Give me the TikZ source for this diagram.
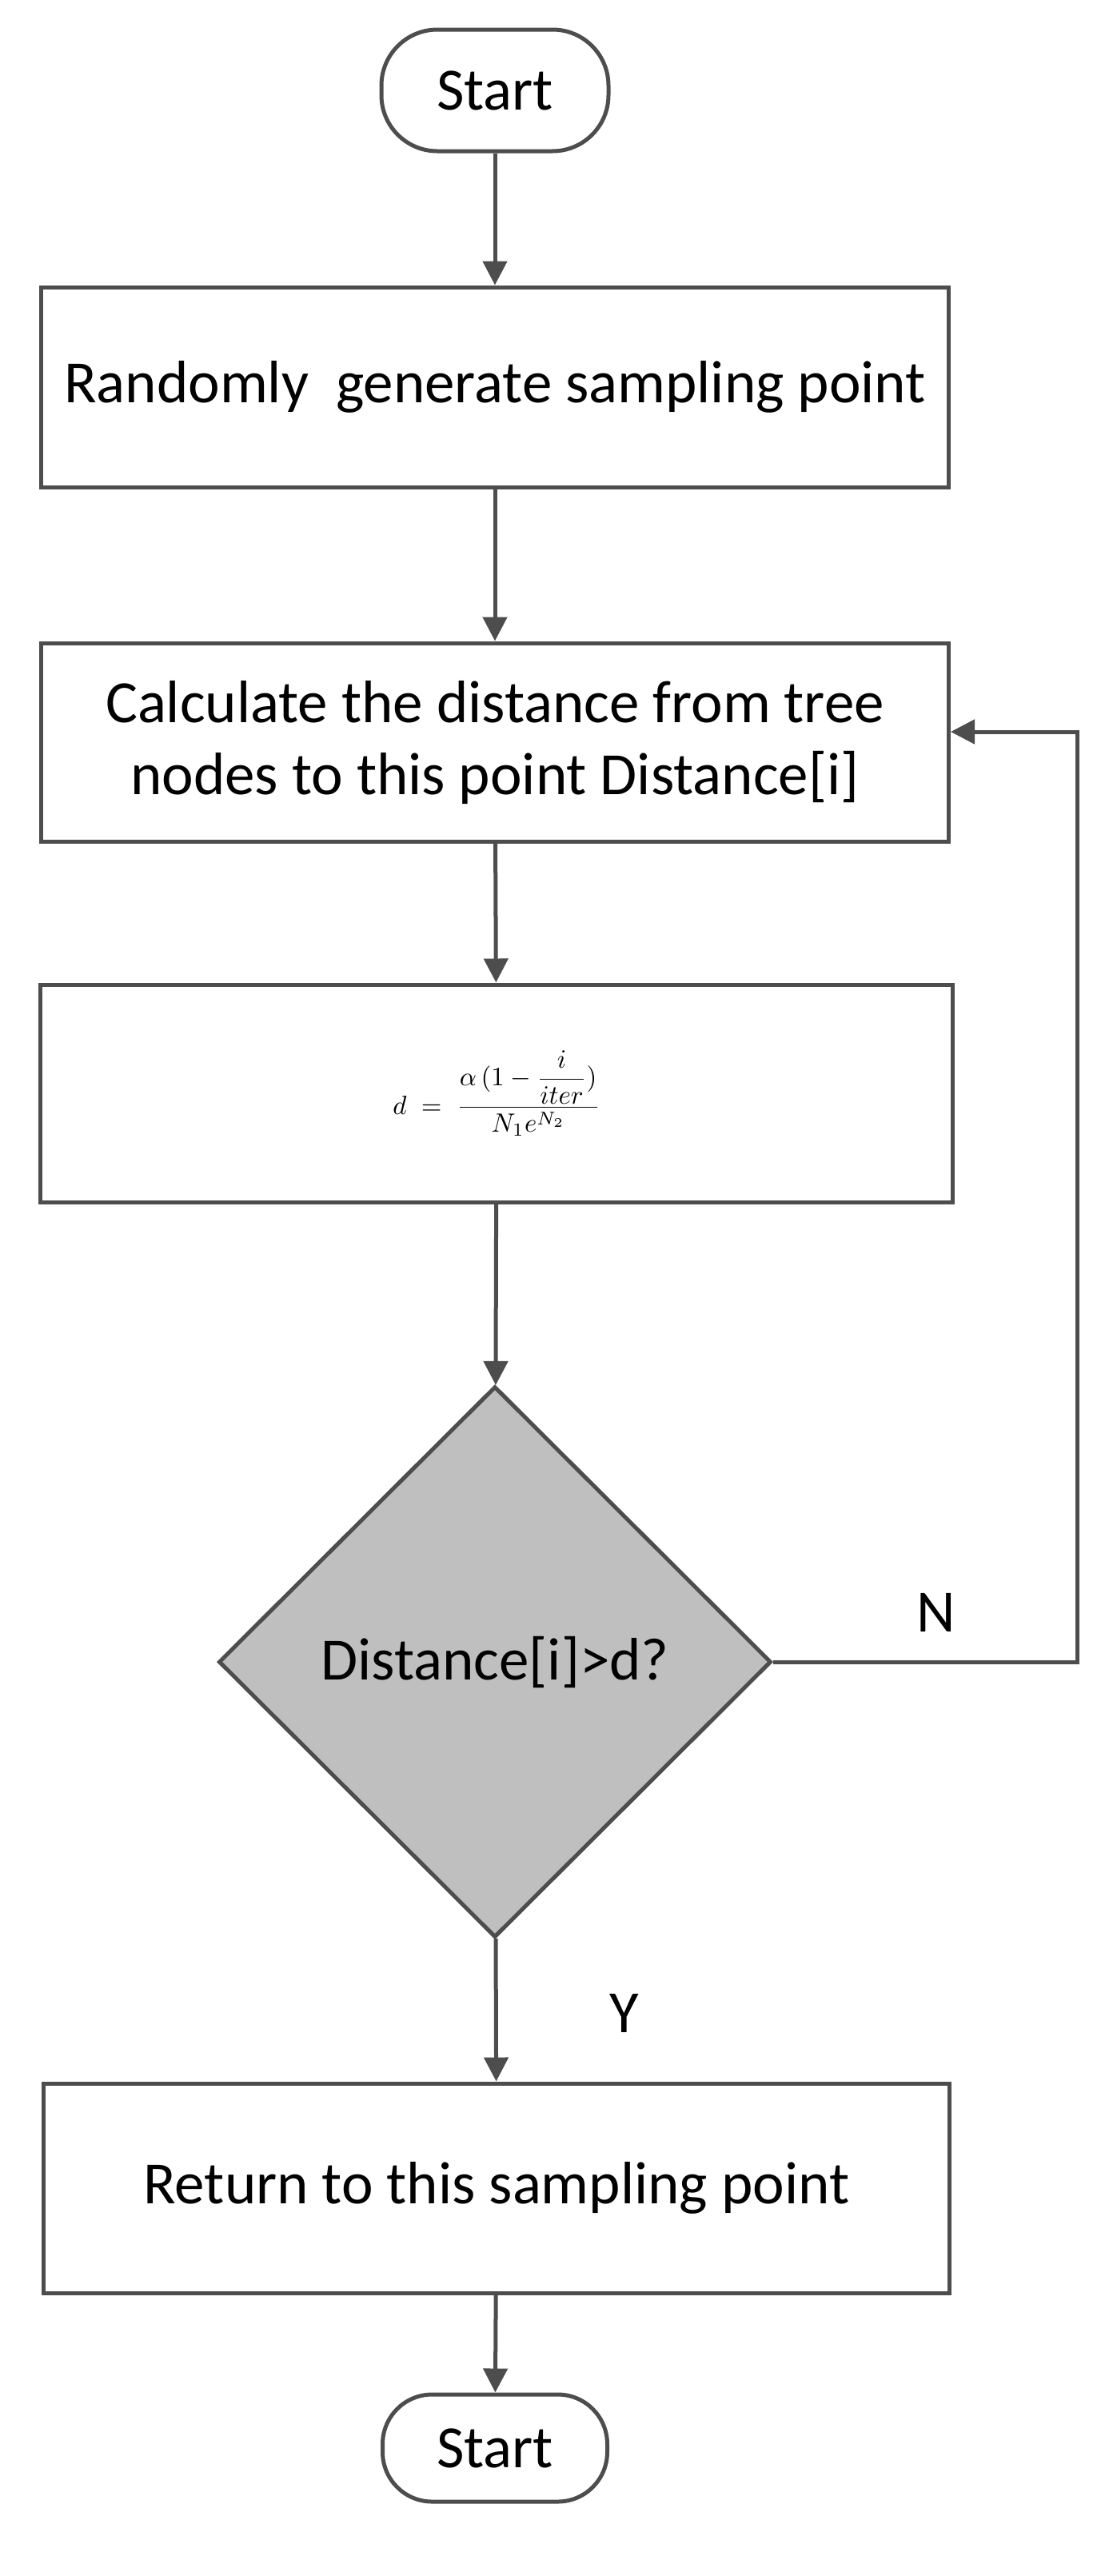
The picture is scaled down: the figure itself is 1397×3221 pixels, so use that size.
\documentclass[tikz,border=0pt]{standalone}
\usepackage{fontspec}
\usepackage{graphicx}
\setmainfont{Carlito}
\usetikzlibrary{shapes.geometric,arrows.meta}
\definecolor{ln}{HTML}{4D4D4D}
\definecolor{dfill}{HTML}{BFBFBF}
\begin{document}
\begin{tikzpicture}[x=1pt,y=-1pt,
  every node/.style={font=\fontsize{75}{90}\selectfont},
  box/.style={draw=ln,line width=5pt,minimum width=1135pt,inner sep=0pt,align=center},
  term/.style={draw=ln,line width=5pt,rounded corners=70pt,minimum width=284pt,inner sep=0pt},
  arr/.style={draw=ln,line width=5pt,-{Triangle[length=30pt,width=30pt]}}]
\useasboundingbox (0,0) rectangle (1397,3221);
\node[term,minimum height=152pt] (s) at (619,113) {Start};
\node[box,minimum height=250pt] (b1) at (619,484) {Randomly\ \ generate sampling point};
\node[box,minimum height=248pt] (b2) at (619,928) {Calculate the distance from tree\\nodes to this point Distance[i]};
\node[box,minimum height=272pt,minimum width=1141pt] (b3) at (621,1367) {\scalebox{3.3}{\normalsize$\displaystyle d\;=\;\frac{\alpha\,(1-\displaystyle\frac{i}{iter})}{N_1 e^{N_2}}$}};
\node[diamond,draw=ln,fill=dfill,line width=5pt,minimum width=691pt,minimum height=689pt,inner sep=0pt] (dm) at (619,2078) {Distance[i]>d?};
\node[box,minimum height=262pt,minimum width=1133pt] (b4) at (621,2736) {Return to this sampling point};
\node[term,minimum height=134pt,minimum width=281pt,rounded corners=62pt] (e) at (619,3061) {Start};
\node (nl) at (1171,2016) {N};
\node (yl) at (781,2517) {Y};
\coordinate (c1) at (1347,2078);
\coordinate (c2) at (1347,915);
\draw[arr] (s) -- (b1);
\draw[arr] (b1) -- (b2);
\draw[arr] (b2) -- (b3);
\draw[arr] (b3) -- (dm);
\draw[arr] (dm) -- (b4);
\draw[arr] (b4) -- (e);
\draw[arr] (dm.east) -- (c1) -- (c2) -- (b2.east |- c2);
\end{tikzpicture}
\end{document}
